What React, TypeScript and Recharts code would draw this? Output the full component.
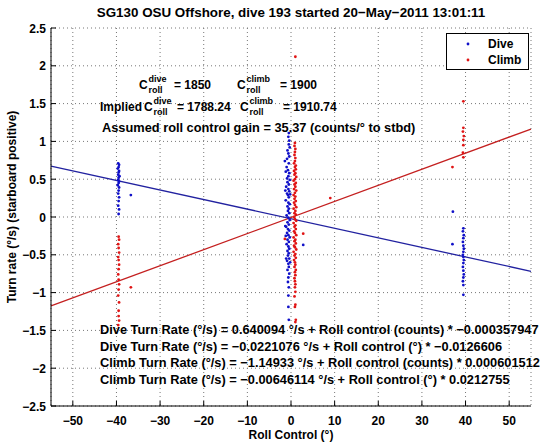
import { ScatterChart, Scatter, XAxis, YAxis, CartesianGrid, ReferenceLine } from 'recharts';

document.body.style.margin = '0';

const FONT = '"Liberation Sans", Arial, Helvetica, sans-serif';

const title = 'SG130 OSU Offshore, dive 193 started 20\u2212May\u22122011 13:01:11';
const xLabel = 'Roll Control (\u00b0)';
const yLabel = 'Turn rate (\u00b0/s) (starboard positive)';
const gainText = 'Assumed roll control gain = 35.37 (counts/\u00b0 to stbd)';

const xTicks = [-50, -40, -30, -20, -10, 0, 10, 20, 30, 40, 50];
const yTicks = [-2.5, -2, -1.5, -1, -0.5, 0, 0.5, 1, 1.5, 2, 2.5];

// regression coefficients (deg fit) as printed on the figure
const diveFit = { intercept: -0.0221076, slope: -0.0126606 };
const climbFit = { intercept: -0.00646114, slope: 0.0212755 };

// [roll deg, turn rate deg/s]
const diveLeft = [
  [-39.6, 0.71], [-39.4, 0.69], [-39.5, 0.66], [-39.7, 0.64], [-39.4, 0.61], [-39.5, 0.59],
  [-39.6, 0.56], [-39.3, 0.54], [-39.5, 0.52], [-39.6, 0.49], [-39.4, 0.47], [-39.5, 0.45],
  [-39.7, 0.42], [-39.4, 0.39], [-39.5, 0.35], [-39.6, 0.31], [-39.4, 0.26], [-39.5, 0.21],
  [-39.6, 0.15], [-39.4, 0.1], [-39.5, 0.04], [-36.7, 0.29],
];
const diveCenter = [
  [-0.5, 1.11], [-0.6, 1.06], [-0.4, 1.01], [-0.5, 0.96], [-0.3, 0.92], [-0.8, 0.88], [-0.6, 0.84],
  [-1.4, 0.74], [-0.9, 0.77], [-0.4, 0.8], [-0.5, 0.71], [-1.0, 0.66], [-0.7, 0.62], [-0.4, 0.58],
  [-0.6, 0.54], [-0.9, 0.51], [-0.3, 0.49], [-0.8, 0.46], [-0.5, 0.43], [-1.1, 0.4], [-0.6, 0.37],
  [-0.4, 0.34], [-0.9, 0.31], [-0.7, 0.29], [-0.5, 0.26], [-1.2, 0.22], [-0.6, 0.19], [-0.3, 0.17],
  [-0.8, 0.14], [-0.5, 0.11], [-0.7, 0.08], [-0.4, 0.05], [-1.0, 0.02], [-0.6, -0.01], [-0.3, -0.04],
  [-0.8, -0.07], [-0.5, -0.1], [-1.1, -0.13], [-0.7, -0.16], [-0.4, -0.18], [-0.9, -0.21],
  [-0.6, -0.24], [-0.3, -0.27], [-0.8, -0.3], [-0.5, -0.33], [-1.0, -0.36], [-0.6, -0.39],
  [-0.4, -0.42], [-0.8, -0.45], [-0.5, -0.48], [-0.7, -0.51], [-0.4, -0.55], [-0.9, -0.58],
  [-0.6, -0.62], [-0.5, -0.66], [-0.8, -0.7], [-0.4, -0.75], [-0.6, -0.8], [-0.7, -0.86],
  [-0.5, -0.93], [-0.6, -1.04], [-0.6, -1.19], [-0.5, -1.36], [2.8, -0.37], [-1.3, -0.12],
  [-1.2, 0.6], [-1.3, 0.35], [-1.1, -0.55], [-1.2, -0.25], [-0.2, -0.6], [-0.2, 0.3],
];
const diveRight = [
  [39.5, -0.15], [39.4, -0.19], [39.6, -0.24], [39.5, -0.28], [39.4, -0.33], [39.5, -0.38],
  [39.6, -0.42], [39.5, -0.46], [39.4, -0.5], [39.5, -0.53], [39.6, -0.57], [39.5, -0.61],
  [39.4, -0.66], [39.5, -0.71], [39.6, -0.76], [39.5, -0.8], [39.4, -0.85], [39.5, -0.9],
  [39.5, -1.03], [37.1, 0.07], [37.0, -0.36],
];

const climbLeft = [
  [-39.5, -0.26], [-39.4, -0.3], [-39.6, -0.36], [-39.5, -0.41], [-39.4, -0.47], [-39.6, -0.53],
  [-39.5, -0.57], [-39.4, -0.63], [-39.5, -0.69], [-39.6, -0.76], [-39.5, -0.83], [-39.4, -0.89],
  [-39.5, -0.96], [-39.6, -1.04], [-39.4, -1.13], [-39.5, -1.24], [-39.5, -1.31], [-39.4, -1.37],
  [-39.6, -1.43], [-36.7, -0.93],
];
const climbCenter = [
  [1.0, 2.12], [0.9, 0.98], [0.8, 0.94], [1.0, 0.9], [0.9, 0.86], [0.8, 0.82], [1.0, 0.78],
  [0.9, 0.74], [0.7, 0.71], [1.1, 0.68],
  [0.9, 0.66], [1.1, 0.63], [0.7, 0.61], [1.0, 0.58], [0.8, 0.56], [1.2, 0.53], [0.9, 0.5],
  [0.6, 0.48], [1.1, 0.45], [0.8, 0.43], [1.0, 0.4], [0.7, 0.37], [1.2, 0.35], [0.9, 0.32],
  [0.6, 0.29], [1.0, 0.27], [0.8, 0.24], [1.1, 0.21], [0.7, 0.19], [0.9, 0.16], [1.2, 0.13],
  [0.6, 0.11], [1.0, 0.08], [0.8, 0.05], [1.1, 0.03], [0.7, 0.0], [0.9, -0.03], [1.2, -0.05],
  [0.6, -0.08], [1.0, -0.11], [0.8, -0.13], [1.1, -0.16], [0.7, -0.19], [0.9, -0.21], [1.2, -0.24],
  [0.6, -0.27], [1.0, -0.3], [0.8, -0.32], [1.1, -0.35], [0.7, -0.38], [0.9, -0.4], [1.2, -0.43],
  [0.6, -0.46], [1.0, -0.49], [0.8, -0.51], [1.1, -0.54], [0.7, -0.57], [0.9, -0.6], [1.0, -0.63],
  [0.8, -0.66], [1.1, -0.7], [0.9, -0.73], [1.0, -0.77], [0.8, -0.81], [0.9, -0.85], [1.0, -0.89],
  [0.9, -0.93], [1.0, -0.99], [0.8, -1.05], [1.0, -1.16], [0.9, -1.19], [1.1, -1.36], [1.0, -1.39],
  [9.0, 0.25], [-1.4, -0.29], [2.8, -0.22],
];
const climbRight = [
  [39.5, 1.53], [39.5, 1.18], [39.4, 1.13], [39.6, 1.07], [39.5, 1.02], [39.5, 0.95],
  [39.4, 0.85], [39.5, 0.79], [37.0, 0.66],
];

const fitLines = [
  'Dive Turn Rate (\u00b0/s) = 0.640094 \u00b0/s + Roll control (counts) * \u22120.000357947',
  'Dive Turn Rate (\u00b0/s) = \u22120.0221076 \u00b0/s + Roll control (\u00b0) * \u22120.0126606',
  'Climb Turn Rate (\u00b0/s) = \u22121.14933 \u00b0/s + Roll control (counts) * 0.000601512',
  'Climb Turn Rate (\u00b0/s) = \u22120.00646114 \u00b0/s + Roll control (\u00b0) * 0.0212755',
];

const toPts = (arr: number[][]) => arr.map(([x, y]) => ({ x, y }));
const diveData = toPts([...diveLeft, ...diveCenter, ...diveRight]);
const climbData = toPts([...climbLeft, ...climbCenter, ...climbRight]);

const fitSegment = (f: { intercept: number; slope: number }) => [
  { x: -55, y: f.intercept + f.slope * -55 },
  { x: 55, y: f.intercept + f.slope * 55 },
];

const fmt = (v: number) => (v < 0 ? '\u2212' + Math.abs(v) : String(v));

const txt = { fontFamily: FONT, fontWeight: 700, fontSize: 12, fill: '#000' };

const BottomTick = ({ x, y, payload }: any) => (
  <g>
    <line x1={x} y1={y} x2={x} y2={y - 5} stroke="#000" />
    <text x={x} y={y + 19} textAnchor="middle" {...txt}>{fmt(payload.value)}</text>
  </g>
);
const TopTick = ({ x, y }: any) => <line x1={x} y1={y} x2={x} y2={y + 5} stroke="#000" />;
const LeftTick = ({ x, y, payload }: any) => (
  <g>
    <line x1={x} y1={y} x2={x + 5} y2={y} stroke="#000" />
    <text x={x - 5} y={y + 4.5} textAnchor="end" {...txt}>{fmt(payload.value)}</text>
  </g>
);
const RightTick = ({ x, y }: any) => <line x1={x} y1={y} x2={x - 5} y2={y} stroke="#000" />;

const Dot = (color: string) => (p: any) => <circle cx={p.cx} cy={p.cy} r={1.4} fill={color} />;

const DIVE = '#1010c8';
const CLIMB = '#e01414';

const Croll = ({ x, y, sup }: { x: number; y: number; sup: string }) => (
  <>
    <text x={x} y={y} {...txt}>C</text>
    <text x={x + 9.5} y={y - 7} {...txt} fontSize={9}>{sup}</text>
    <text x={x + 9.5} y={y + 4} {...txt} fontSize={9}>roll</text>
  </>
);

export default function App() {
  return (
    <div style={{ position: 'relative', width: 541, height: 442, background: '#fff' }}>
      <ScatterChart width={541} height={442} margin={{ top: 28, right: 10, bottom: 0, left: 0 }}>
        <CartesianGrid stroke="#777" strokeDasharray="1 3" />
        <XAxis type="number" dataKey="x" domain={[-55, 55]} ticks={xTicks} allowDataOverflow
          height={36} tickSize={0} tickMargin={0} tickLine={false} tick={<BottomTick />}
          axisLine={{ stroke: '#000' }} interval={0} />
        <XAxis xAxisId="top" orientation="top" type="number" domain={[-55, 55]} ticks={xTicks}
          allowDataOverflow height={0} tickSize={0} tickMargin={0} tickLine={false} tick={<TopTick />}
          axisLine={{ stroke: '#000' }} interval={0} />
        <YAxis type="number" dataKey="y" domain={[-2.5, 2.5]} ticks={yTicks} allowDataOverflow
          width={51} tickSize={0} tickMargin={0} tickLine={false} tick={<LeftTick />}
          axisLine={{ stroke: '#000' }} interval={0} />
        <YAxis yAxisId="right" orientation="right" type="number" domain={[-2.5, 2.5]} ticks={yTicks}
          allowDataOverflow width={0} tickSize={0} tickMargin={0} tickLine={false} tick={<RightTick />}
          axisLine={{ stroke: '#000' }} interval={0} />
        <Scatter name="Dive" data={diveData} shape={Dot(DIVE)} isAnimationActive={false} />
        <Scatter name="Climb" data={climbData} shape={Dot(CLIMB)} isAnimationActive={false} />
        <ReferenceLine segment={fitSegment(diveFit)} stroke="#2222a0" strokeWidth={1.3} />
        <ReferenceLine segment={fitSegment(climbFit)} stroke="#c42020" strokeWidth={1.3} />
      </ScatterChart>

      <svg width={541} height={442} style={{ position: 'absolute', left: 0, top: 0, pointerEvents: 'none' }}>
        <text x={291} y={17} textAnchor="middle" {...txt} fontSize={13.4}>{title}</text>
        <text x={291} y={439} textAnchor="middle" {...txt}>{xLabel}</text>
        <text x={0} y={0} textAnchor="middle" {...txt} transform="translate(16 207) rotate(-90)">{yLabel}</text>

        <Croll x={139} y={89} sup="dive" />
        <text x={174} y={89} {...txt}>= 1850</text>
        <Croll x={237} y={89} sup="climb" />
        <text x={280} y={89} {...txt}>= 1900</text>

        <text x={100} y={111} {...txt}>Implied</text>
        <Croll x={144} y={111} sup="dive" />
        <text x={177} y={111} {...txt}>= 1788.24</text>
        <Croll x={240} y={111} sup="climb" />
        <text x={283} y={111} {...txt}>= 1910.74</text>

        <text x={102} y={132} {...txt} fontSize={12.8}>{gainText}</text>

        {fitLines.map((s, i) => (
          <text key={i} x={100} y={334 + i * 16.6} {...txt} fontSize={12.8}>{s}</text>
        ))}

        <rect x={446.5} y={33.5} width={82} height={36} fill="#fff" stroke="#000" />
        <circle cx={468} cy={44} r={1.4} fill={DIVE} />
        <text x={488} y={48} {...txt}>Dive</text>
        <circle cx={468} cy={60} r={1.4} fill={CLIMB} />
        <text x={488} y={64} {...txt}>Climb</text>
      </svg>
    </div>
  );
}
